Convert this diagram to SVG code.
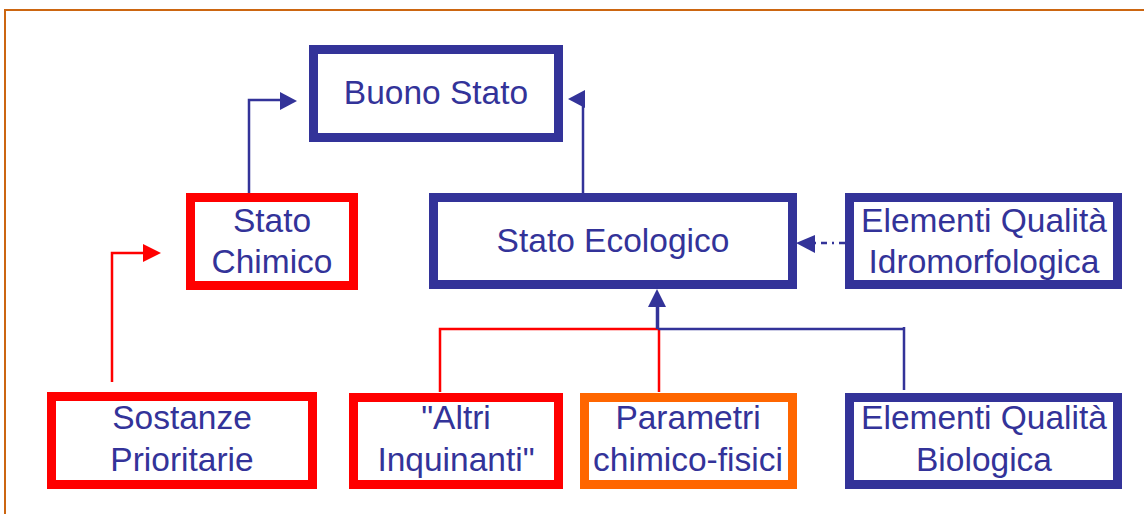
<svg xmlns="http://www.w3.org/2000/svg" width="1144" height="514" viewBox="0 0 1144 514">
<style>
.box{fill:#fff;stroke-width:9}
.blue{stroke:#333399}
.red{stroke:#FF0000}
.orange{stroke:#FF6600}
text{font-family:"Liberation Sans",Arial,sans-serif;font-size:33.5px;fill:#333399;text-anchor:middle}
.ln{fill:none;stroke-width:2.5}
</style>
<rect width="1144" height="514" fill="#fff"/>
<path d="M5 514 V10 H1144" fill="none" stroke="#CC6611" stroke-width="2"/>
<g id="connectors">
<path class="ln red" d="M112 382 V253 H146"/>
<polygon points="161,253 143,244 143,262" fill="#FF0000"/>
<path class="ln blue" d="M249 196 V100 H282"/>
<polygon points="297,101 280,92 280,110" fill="#333399"/>
<path class="ln blue" d="M583 193 V104"/>
<polygon points="568,99 585,90 585,108" fill="#333399"/>
<path class="ln blue" d="M845 243 H812" stroke-dasharray="6,5,2,5"/>
<polygon points="796,243 815,235 815,253" fill="#333399"/>
<path class="ln red" d="M440 392 V329 H658 M659 329 V392"/>
<path class="ln blue" d="M658 329 H905 M904 327 V390"/>
<path d="M657.5 329 V305" stroke="#333399" stroke-width="3.5" fill="none"/>
<polygon points="657,289 648,307 666,307" fill="#333399"/>
</g>
<g id="buono-stato">
<rect class="box blue" x="313.5" y="49.5" width="245" height="88"/>
<text x="436" y="104">Buono Stato</text>
</g>
<g id="stato-chimico">
<rect class="box red" x="190.5" y="197.5" width="163" height="88"/>
<text x="272" y="232">Stato</text>
<text x="272" y="273">Chimico</text>
</g>
<g id="stato-ecologico">
<rect class="box blue" x="433.5" y="197.5" width="359" height="87"/>
<text x="613" y="252">Stato Ecologico</text>
</g>
<g id="idromorfologica">
<rect class="box blue" x="849.5" y="197.5" width="268" height="87"/>
<text x="984" y="232">Elementi Qualità</text>
<text x="984" y="273">Idromorfologica</text>
</g>
<g id="sostanze-prioritarie">
<rect class="box red" x="51.5" y="396.5" width="261" height="88"/>
<text x="182" y="429">Sostanze</text>
<text x="182" y="471">Prioritarie</text>
</g>
<g id="altri-inquinanti">
<rect class="box red" x="353.5" y="397.5" width="205" height="87"/>
<text x="456" y="429">"Altri</text>
<text x="456" y="471">Inquinanti"</text>
</g>
<g id="parametri">
<rect class="box orange" x="584.5" y="397.5" width="208" height="87"/>
<text x="688" y="429">Parametri</text>
<text x="688" y="471">chimico-fisici</text>
</g>
<g id="biologica">
<rect class="box blue" x="849.5" y="397.5" width="268" height="87"/>
<text x="984" y="429">Elementi Qualità</text>
<text x="984" y="471">Biologica</text>
</g>
</svg>
